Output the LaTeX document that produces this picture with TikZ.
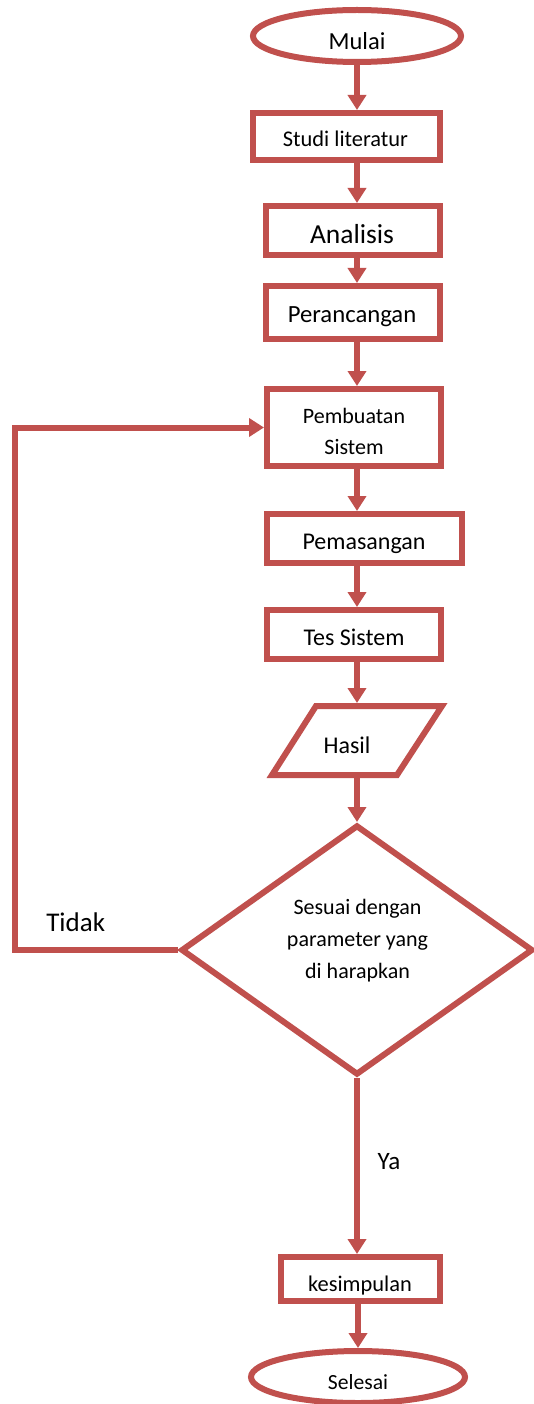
\documentclass[tikz,border=0pt]{standalone}
\usepackage{fontspec}
\setmainfont{Carlito}
\usetikzlibrary{arrows.meta,shapes.geometric}
\definecolor{fred}{HTML}{C0504D}
\begin{document}
\begin{tikzpicture}[x=1pt,y=-1pt,
  shp/.style={draw=fred,line width=6pt,inner sep=0pt,fill=white,line join=miter},
  boxn/.style={shp,rectangle},
  term/.style={shp,ellipse},
  conn/.style={draw=fred,line width=6pt,line join=miter,-{Triangle[width=18pt,length=15pt]}},
  lbl/.style={inner sep=0pt,anchor=base,text=black},
  fs/.style={font=\fontsize{#1}{#1}\selectfont}]
\useasboundingbox (0,0) rectangle (533,1404);
\coordinate (ax) at (357,0);
\coordinate (fb) at (15,0);
% shapes
\node[term,minimum width=208pt,minimum height=52pt] (mulai) at (357,36) {};
\node[boxn,minimum width=187pt,minimum height=47pt] (studi) at (346.5,136.5) {};
\node[boxn,minimum width=174pt,minimum height=49pt] (analisis) at (353,230.5) {};
\node[boxn,minimum width=174pt,minimum height=53pt] (rancang) at (353,312.5) {};
\node[boxn,minimum width=174pt,minimum height=77pt] (buat) at (354,427.5) {};
\node[boxn,minimum width=195pt,minimum height=49pt] (pasang) at (364.5,538.5) {};
\node[boxn,minimum width=174pt,minimum height=49pt] (tes) at (354,634.5) {};
\coordinate (h1) at (316,706);
\coordinate (h2) at (442,706);
\coordinate (h3) at (397,775);
\coordinate (h4) at (272,775);
\draw[shp] (h1) -- (h2) -- (h3) -- (h4) -- cycle;
\coordinate (htop) at (357,703);
\coordinate (hbot) at (357,778);
\node[shp,diamond,minimum width=352pt,minimum height=250pt] (cek) at (357,950) {};
\node[boxn,minimum width=159pt,minimum height=44pt] (simpul) at (360.5,1279) {};
\node[term,minimum width=214pt,minimum height=52pt] (selesai) at (358,1377) {};
% connectors
\draw[conn] (mulai.south -| ax) -- (studi.north -| ax);
\draw[conn] (studi.south -| ax) -- (analisis.north -| ax);
\draw[conn] (analisis.south -| ax) -- (rancang.north -| ax);
\draw[conn] (rancang.south -| ax) -- (buat.north -| ax);
\draw[conn] (buat.south -| ax) -- (pasang.north -| ax);
\draw[conn] (pasang.south -| ax) -- (tes.north -| ax);
\draw[conn] (tes.south -| ax) -- (htop);
\draw[conn] (hbot) -- (cek.north);
\draw[conn] (cek.south) -- (simpul.north -| cek.south);
\draw[conn] (selesai.north |- simpul.south) -- (selesai.north);
\draw[conn] (cek.west) -- (cek.west -| fb) -- (buat.west -| fb) -- (buat.west);
% texts
\node[lbl,fs=24.5] (tmulai) at (357,50) {Mulai};
\node[lbl,fs=22.4] (tstudi) at (345.5,147) {Studi literatur};
\node[lbl,fs=27.5] (tanalisis) at (352,244) {Analisis};
\node[lbl,fs=24.7] (trancang) at (352,322) {Perancangan};
\node[lbl,font=\fontsize{22}{31}\selectfont,align=center] (tbuat) at (354,454) {Pembuatan\\Sistem};
\node[lbl,fs=24] (tpasang) at (364,549) {Pemasangan};
\node[lbl,fs=24] (ttes) at (354,645) {Tes Sistem};
\node[lbl,fs=24] (thasil) at (347,753) {Hasil};
\node[lbl,font=\fontsize{22}{32}\selectfont,align=center] (tcek) at (357.5,978) {Sesuai dengan\\parameter yang\\di harapkan};
\node[lbl,fs=27] (ttidak) at (75.7,931) {Tidak};
\node[lbl,fs=25] (tya) at (389,1169) {Ya};
\node[lbl,fs=22.4] (tsimpul) at (360,1291) {kesimpulan};
\node[lbl,fs=21.6] (tselesai) at (358,1389) {Selesai};
\end{tikzpicture}
\end{document}
